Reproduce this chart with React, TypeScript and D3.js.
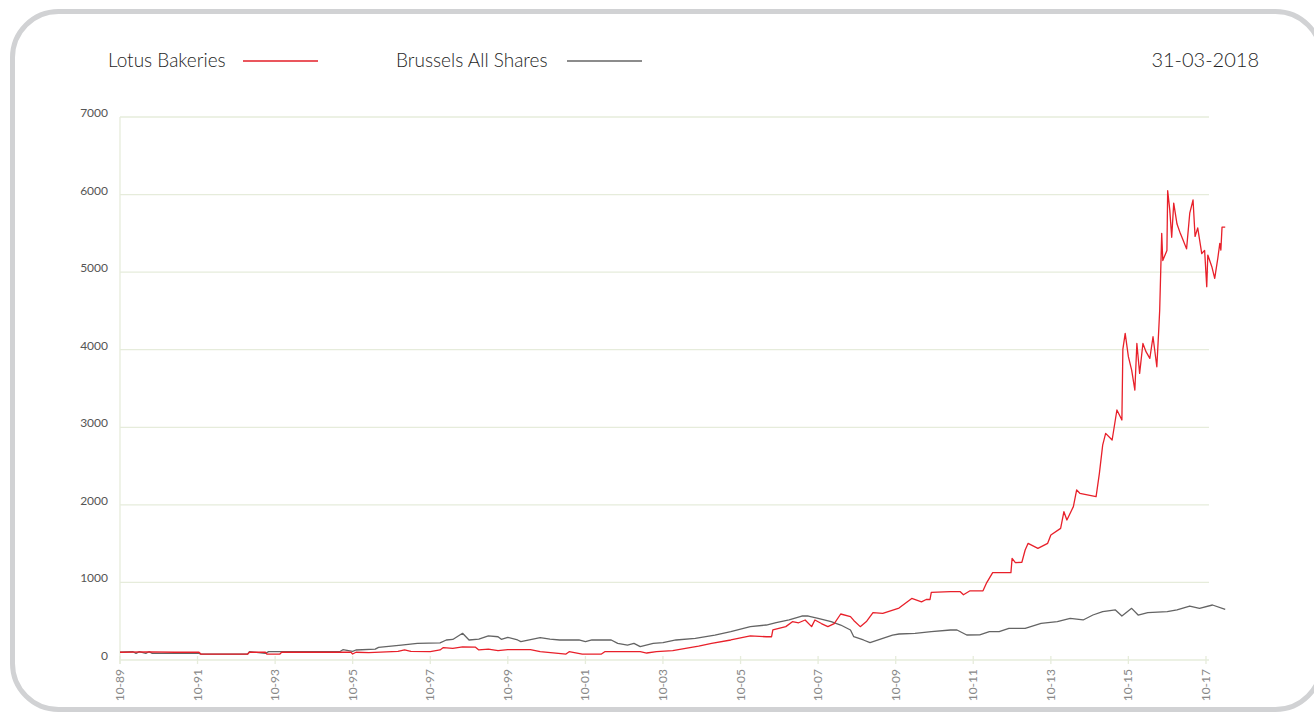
import React from "react";
import * as d3 from "d3";

const legendLabels = ["Lotus Bakeries", "Brussels All Shares"];
const dateLabel = "31-03-2018";
const yTicks = [0, 1000, 2000, 3000, 4000, 5000, 6000, 7000];
const xTickDates = ["1989-10-01","1991-10-01","1993-10-01","1995-10-01","1997-10-01","1999-10-01","2001-10-01","2003-10-01","2005-10-01","2007-10-01","2009-10-01","2011-10-01","2013-10-01","2015-10-01","2017-10-01"];

const lotusDates = [
  "1989-10-01","1990-07-01","1991-03-01","1991-10-15","1991-11-01","1993-01-15","1993-02-01","1993-07-01","1993-07-15","1993-11-15","1993-12-01",
  "1995-09-15","1995-10-01","1995-11-01","1996-03-01","1996-12-01","1997-02-01","1997-04-01","1997-10-01","1998-01-01","1998-02-01",
  "1998-05-01","1998-08-01","1998-12-01","1999-01-01","1999-04-01","1999-07-01","1999-10-01","2000-05-01","2000-08-01","2001-04-01",
  "2001-05-01","2001-09-01","2002-03-01","2002-04-01","2003-03-01","2003-05-01","2003-08-01","2004-01-01","2004-05-01","2004-09-01",
  "2005-01-01","2005-07-01","2006-01-01","2006-06-01","2006-07-20","2006-08-01","2006-12-01","2007-02-01","2007-04-01","2007-06-01","2007-08-01",
  "2007-09-01","2007-11-01","2008-01-01","2008-03-01","2008-05-01","2008-08-01","2008-09-01","2008-11-01","2009-01-01","2009-03-01",
  "2009-06-01","2009-11-01","2010-03-01","2010-06-01","2010-07-15","2010-08-20","2010-09-01","2011-03-01","2011-06-01","2011-07-01","2011-09-01",
  "2012-01-01","2012-02-01","2012-04-01","2012-08-01","2012-09-20","2012-10-01","2012-11-01","2013-01-01","2013-02-01","2013-03-01","2013-06-01",
  "2013-09-01","2013-10-01","2014-01-01","2014-02-01","2014-03-01","2014-05-01","2014-06-01","2014-07-01","2014-12-01","2015-01-01",
  "2015-02-01","2015-03-01","2015-05-01","2015-06-15","2015-08-01","2015-08-10","2015-09-01","2015-10-01","2015-11-01","2015-12-01",
  "2015-12-20","2016-01-15","2016-02-15","2016-03-15","2016-04-20","2016-05-20","2016-06-25","2016-07-12","2016-07-22","2016-08-10",
  "2016-08-20","2016-09-28","2016-10-05","2016-10-25","2016-11-12","2016-12-01","2017-01-01","2017-02-01","2017-02-25","2017-04-01",
  "2017-05-01","2017-06-01","2017-06-20","2017-07-15","2017-08-22","2017-09-18","2017-10-08","2017-10-18","2017-11-25","2017-12-22",
  "2018-01-20","2018-02-08","2018-02-18","2018-03-01","2018-03-31"
];
const lotusValues = [
  100,105,100,100,77,77,100,100,77,77,100,
  100,77,100,95,110,130,110,108,130,160,
  150,170,165,130,140,120,133,133,107,77,
  107,77,77,107,107,90,107,120,150,180,
  215,258,310,300,300,387,430,494,480,516,430,
  516,470,430,470,593,560,510,430,500,610,
  600,670,794,750,780,780,872,881,881,841,892,
  892,987,1126,1126,1126,1310,1255,1260,1418,1504,1440,
  1504,1611,1697,1912,1805,1977,2192,2149,2106,2406,
  2771,2922,2836,3223,3094,4004,4210,3910,3738,3480,
  4080,3695,4080,3975,3889,4167,3780,4230,4512,5500,
  5150,5280,6050,5800,5450,5890,5620,5500,5420,5300,
  5760,5930,5460,5570,5240,5280,4812,5220,5070,4920,
  5177,5370,5285,5580,5580
];

const basDates = [
  "1989-10-01","1990-02-01","1990-03-01","1990-04-01","1990-06-01","1990-07-01","1990-08-01","1991-10-15","1991-11-01","1993-01-15",
  "1993-02-01","1993-07-01","1993-08-01","1995-06-01","1995-07-01","1995-10-01","1995-11-01","1996-05-01","1996-06-01","1997-01-01",
  "1997-06-01","1998-01-01","1998-03-01","1998-05-01","1998-08-01","1998-10-01","1999-01-01","1999-04-01","1999-07-01","1999-08-01",
  "1999-10-01","2000-01-01","2000-02-01","2000-08-01","2000-11-01","2001-02-01","2001-08-01","2001-10-01","2001-12-01","2002-06-01",
  "2002-08-01","2002-11-01","2003-01-01","2003-03-01","2003-07-01","2003-10-01","2004-02-01","2004-08-01","2005-02-01","2005-07-01",
  "2006-01-01","2006-06-01","2006-09-01","2007-01-01","2007-05-01","2007-07-01","2007-10-01","2008-02-01","2008-05-01","2008-08-01",
  "2008-09-01","2008-12-01","2009-02-01","2009-06-01","2009-09-01","2009-11-01","2010-04-01","2010-09-01","2011-03-01","2011-05-01",
  "2011-08-01","2011-12-01","2012-03-01","2012-06-01","2012-09-01","2013-02-01","2013-07-01","2013-12-01","2014-04-01","2014-08-01",
  "2014-11-01","2015-02-01","2015-06-01","2015-08-01","2015-11-01","2016-01-01","2016-04-01","2016-10-01","2017-01-01","2017-05-01",
  "2017-08-01","2017-12-01","2018-03-31"
];
const basValues = [
  100,107,85,107,85,107,86,86,77,77,
  107,85,107,107,133,110,129,140,163,193,
  215,220,258,265,344,258,270,310,300,266,
  292,258,236,288,270,258,258,236,258,258,
  215,193,215,172,215,224,258,279,322,365,
  430,451,481,516,567,567,537,494,451,387,
  300,258,224,279,322,335,344,365,387,387,
  322,325,365,365,408,408,473,494,537,516,
  580,623,645,567,666,580,610,623,645,696,
  666,709,653
];

const parse = d3.timeParse("%Y-%m-%d");
const fmt = d3.timeFormat("%m-%y");

export default function App() {
  const x = d3.scaleTime().domain([parse("1989-10-01")!, parse("2017-10-01")!]).range([120, 1206]);
  const y = d3.scaleLinear().domain([0, 7000]).range([660, 117]);
  const gridRight = 1209;

  const lotus = lotusDates.map((d, i) => ({ d: parse(d)!, v: lotusValues[i] }));
  const bas = basDates.map((d, i) => ({ d: parse(d)!, v: basValues[i] }));
  const line = d3.line<{ d: Date; v: number }>().x(p => x(p.d)).y(p => y(p.v));

  const font = "Lato, 'Open Sans', sans-serif";
  const gridColor = "#e6ecdb";

  return (
    <svg width={1314} height={713} style={{ position: "absolute", left: 0, top: 0 }} fontFamily={font}>
      <rect x={12.5} y={11.5} width={1309} height={698} rx={46} ry={46} fill="#fff" stroke="#d1d2d4" strokeWidth={5} />
      {/* legend */}
      <text x={108} y={67} fontSize={19} fontWeight={300} fill="#1e1e1e">{legendLabels[0]}</text>
      <line x1={243} x2={318} y1={61} y2={61} stroke="#e31e27" strokeWidth={1.3} />
      <text x={396} y={67} fontSize={19} fontWeight={300} fill="#1e1e1e">{legendLabels[1]}</text>
      <line x1={567} x2={642} y1={61} y2={61} stroke="#666" strokeWidth={1.3} />
      <text x={1259} y={67} fontSize={20} fontWeight={300} fill="#1e1e1e" textAnchor="end">{dateLabel}</text>

      {/* grid */}
      {yTicks.map(t => (
        <g key={t}>
          {t > 0 && <line x1={120} x2={gridRight} y1={y(t)} y2={y(t)} stroke={gridColor} strokeWidth={1.3} />}
          <text x={108} y={y(t) - 3} fontSize={12} fill="#555" textAnchor="end" dominantBaseline="middle">{t}</text>
        </g>
      ))}
      <line x1={120} x2={120} y1={y(7000)} y2={664} stroke={gridColor} strokeWidth={1.3} />
      <line x1={120} x2={gridRight} y1={y(0)} y2={y(0)} stroke={gridColor} strokeWidth={1.3} />
      {xTickDates.map(s => {
        const d = parse(s)!;
        const px = x(d);
        return (
          <g key={s}>
            <line x1={px} x2={px} y1={656} y2={664} stroke={gridColor} strokeWidth={1.3} />
            <text transform={`translate(${px + 4},669) rotate(-90)`} fontSize={12} fill="#888" textAnchor="end">{fmt(d)}</text>
          </g>
        );
      })}

      {/* series */}
      <path d={line(bas) || ""} fill="none" stroke="#646464" strokeWidth={1.3} strokeLinejoin="round" />
      <path d={line(lotus) || ""} fill="none" stroke="#e8202a" strokeWidth={1.3} strokeLinejoin="round" />
    </svg>
  );
}
